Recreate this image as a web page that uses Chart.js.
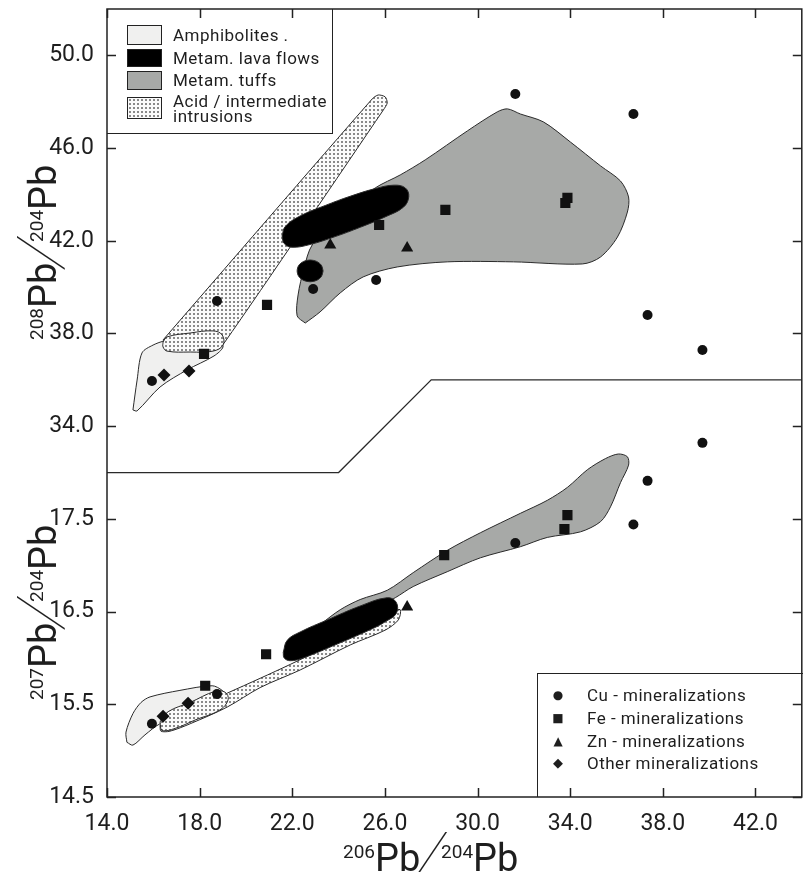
<!DOCTYPE html>
<html lang="en">
<head>
<meta charset="UTF-8">
<title>Pb isotope diagram</title>
<style>
  body { margin: 0; background: #fff; }
  #wrap { position: relative; width: 809px; height: 872px; font-family: Roboto, sans-serif; color: #1e1e1e; }
  #wrap canvas { position: absolute; left: 0; top: 0; }
  .box { position: absolute; box-sizing: border-box; }
  .lab { position: absolute; font-size: 17px; line-height: 20px; letter-spacing: 0.5px; white-space: nowrap; }
  .sw { position: absolute; box-sizing: border-box; left: 127px; width: 35px; border: 1px solid #222; }
  .mk { position: absolute; width: 16px; left: 550px; text-align: center; font-family: 'DejaVu Sans'; font-size: 12px; line-height: 20px; }
  .ttl { position: absolute; white-space: nowrap; font-size: 38px; line-height: 38px; }
  .ttl .iso { font-size: 19px; vertical-align: 13px; }
  .ttl .sl { display: inline-block; font-size: 62px; font-weight: 100; transform: skewX(-16deg); margin: 0 -2px 0 -1px; vertical-align: -5px; }
  .rot { transform: rotate(-90deg); transform-origin: left top; }
</style>
</head>
<body>
<div id="wrap">
  <canvas id="chart" width="809" height="872"></canvas>

  <!-- rock type legend, top left -->
  <div class="box" style="left:107px;top:9px;width:226px;height:125px;border-right:1.5px solid #222;border-bottom:1.5px solid #222;"></div>
  <div class="sw" style="top:25px;height:20px;background:#f0f0ef;"></div>
  <div class="lab" style="left:173px;top:25px;">Amphibolites .</div>
  <div class="sw" style="top:49px;height:18px;background:#000;"></div>
  <div class="lab" style="left:173px;top:48px;">Metam. lava flows</div>
  <div class="sw" style="top:71px;height:19px;background:#a7a9a7;"></div>
  <div class="lab" style="left:173px;top:70px;">Metam. tuffs</div>
  <div class="sw" style="top:97px;height:22px;background:radial-gradient(circle, #8a8a8a 1px, transparent 1.3px) 0 0/4px 4px, #fbfbfb;"></div>
  <div class="lab" style="left:173px;top:94px;line-height:15px;">Acid / intermediate<br>intrusions</div>

  <!-- mineralization legend, bottom right -->
  <div class="box" style="left:537px;top:673px;width:266px;height:124px;border-left:1.5px solid #222;border-top:1.5px solid #222;"></div>
  <div class="mk" style="top:685px;">●</div>
  <div class="lab" style="left:587px;top:685px;">Cu - mineralizations</div>
  <div class="mk" style="top:708px;">■</div>
  <div class="lab" style="left:587px;top:708px;">Fe - mineralizations</div>
  <div class="mk" style="top:731px;">▲</div>
  <div class="lab" style="left:587px;top:731px;">Zn - mineralizations</div>
  <div class="mk" style="top:753px;font-size:13px;">◆</div>
  <div class="lab" style="left:587px;top:753px;">Other mineralizations</div>

  <!-- axis titles -->
  <div class="ttl rot" style="left:18px;top:340px;"><span class="iso">208</span>Pb<span class="sl">/</span><span class="iso">204</span>Pb</div>
  <div class="ttl rot" style="left:18px;top:700px;"><span class="iso">207</span>Pb<span class="sl">/</span><span class="iso">204</span>Pb</div>
  <div class="ttl" style="left:343px;top:833px;"><span class="iso">206</span>Pb<span class="sl">/</span><span class="iso">204</span>Pb</div>
</div>

<script src="https://cdn.jsdelivr.net/npm/chart.js"></script>
<script>
// tick labels
const xTicks = [14.0, 18.0, 22.0, 26.0, 30.0, 34.0, 38.0, 42.0];
const ticks208 = [34.0, 38.0, 42.0, 46.0, 50.0];
const ticks207 = [14.5, 15.5, 16.5, 17.5];

// mineralizations: [206Pb/204Pb, 208Pb/204Pb] and [206Pb/204Pb, 207Pb/204Pb]
const cu208 = [[15.94,35.95],[18.75,39.40],[22.90,39.92],[25.62,40.31],[31.63,48.33],[36.73,47.47],[37.34,38.80],[39.71,37.29]];
const cu207 = [[15.94,15.29],[18.75,15.61],[31.63,17.24],[36.73,17.44],[37.34,17.91],[39.71,18.32]];
const fe208 = [[18.19,37.12],[20.91,39.23],[25.75,42.68],[28.61,43.33],[33.79,43.63],[33.88,43.85]];
const fe207 = [[18.24,15.70],[20.87,16.04],[28.56,17.11],[33.88,17.54],[33.75,17.39]];
const zn208 = [[23.64,41.82],[26.96,41.69]];
const zn207 = [[26.96,16.55]];
const other208 = [[16.46,36.21],[17.54,36.38]];
const other207 = [[16.42,15.37],[17.50,15.51]];

// rock fields (outlines), upper diagram
const amph208 = [[15.12,34.70],[15.30,35.99],[15.51,37.16],[15.99,37.50],[16.51,37.68],[18.02,37.81],[18.80,37.72],[19.01,37.42],[18.62,37.03],[17.46,36.43],[16.29,35.69],[15.30,34.66]];
const intr208 = [[16.42,37.72],[25.45,48.12],[25.71,48.29],[26.01,48.21],[26.10,47.95],[25.93,47.64],[19.06,37.59],[18.67,37.29],[16.72,37.29]];
const oval208 = [[16.42,37.63],[16.59,37.85],[17.59,38.02],[18.58,38.11],[18.97,37.94],[19.01,37.50],[18.58,37.24],[17.59,37.20],[16.59,37.24],[16.42,37.42]];
const tuff208 = [[22.56,38.45],[22.21,38.76],[22.25,39.66],[22.51,40.83],[22.86,41.82],[24.07,43.11],[25.58,44.28],[26.66,44.84],[27.74,45.49],[29.56,46.74],[30.85,47.56],[31.29,47.69],[31.85,47.47],[32.84,47.13],[34.01,46.26],[35.31,45.23],[36.17,44.58],[36.52,43.89],[36.47,43.24],[36.04,42.16],[35.31,41.30],[34.53,41.00],[31.55,41.09],[28.69,41.09],[26.53,40.87],[25.06,40.44],[24.07,39.75],[23.20,38.93]];
const lava208 = [[21.56,42.21],[21.70,42.62],[22.34,43.07],[23.42,43.52],[24.50,43.92],[25.58,44.25],[26.40,44.40],[26.88,44.28],[27.03,43.90],[26.80,43.45],[26.01,43.03],[24.93,42.58],[23.85,42.18],[22.77,41.84],[21.99,41.72],[21.65,41.88]];
const lavaSmall208 = [[23.33,40.70],[23.26,40.94],[23.05,41.11],[22.77,41.17],[22.49,41.11],[22.28,40.94],[22.21,40.70],[22.28,40.46],[22.49,40.29],[22.77,40.23],[23.05,40.29],[23.26,40.46]];

// rock fields, lower diagram
const amph207 = [[14.86,15.09],[14.82,15.20],[15.12,15.40],[15.47,15.52],[15.86,15.58],[17.15,15.65],[18.54,15.70],[18.97,15.65],[19.14,15.58],[18.88,15.49],[17.59,15.41],[16.29,15.29],[15.64,15.17],[15.12,15.06]];
const intr207 = [[16.29,15.27],[16.64,15.36],[17.80,15.46],[19.19,15.62],[20.61,15.78],[21.91,15.93],[23.64,16.14],[25.37,16.36],[26.32,16.50],[26.66,16.52],[26.58,16.41],[26.01,16.30],[24.50,16.14],[22.34,15.87],[20.61,15.68],[19.19,15.47],[17.59,15.29],[16.72,15.21],[16.33,15.21]];
const oval207 = [[16.29,15.31],[16.64,15.42],[17.59,15.52],[18.67,15.64],[19.10,15.63],[19.23,15.55],[18.88,15.44],[17.80,15.33],[16.94,15.24],[16.38,15.22]];
const tuff207 = [[23.20,16.36],[24.07,16.52],[24.93,16.63],[26.10,16.73],[27.22,16.92],[28.69,17.16],[30.12,17.35],[31.85,17.56],[33.01,17.70],[33.88,17.84],[34.74,18.03],[35.52,18.15],[36.08,18.20],[36.47,18.17],[36.52,18.08],[36.17,17.89],[35.74,17.63],[35.31,17.47],[34.44,17.36],[33.01,17.30],[31.85,17.20],[30.12,17.08],[28.69,16.93],[27.22,16.77],[26.45,16.65],[25.58,16.54],[24.29,16.41],[23.42,16.30]];
const lava207 = [[21.61,16.06],[21.78,16.19],[22.34,16.28],[23.51,16.41],[24.93,16.56],[26.10,16.65],[26.49,16.60],[26.49,16.48],[26.01,16.39],[25.50,16.32],[23.94,16.15],[22.47,16.00],[21.91,15.97],[21.65,16.00]];

// boundary between the two diagrams, in 208Pb/204Pb units
const divider208 = [[14,32],[24,32],[28,36],[44,36]];

// one vertical axis for both: 1 unit of 207Pb/204Pb = 4 units of 208Pb/204Pb
const u207 = v => v - 14.5;
const u208 = v => 4 + (v - 34) / 4;

function pts(arr, f, close) {
  const p = arr.map(([x, y]) => ({ x: x, y: f(y) }));
  if (close) p.push({ x: p[0].x, y: p[0].y });
  return p;
}

function makePattern(w, h, draw) {
  const c = document.createElement('canvas');
  c.width = w; c.height = h;
  const g = c.getContext('2d');
  draw(g);
  return g.createPattern(c, 'repeat');
}
const dotFill = makePattern(4, 4, g => {
  g.fillStyle = '#fbfbfb'; g.fillRect(0, 0, 4, 4);
  g.fillStyle = '#8a8a8a'; g.fillRect(1, 1, 2, 2);
});
const tuffFill = '#a7a9a7';
const amphFill = '#f0f0ef';

function area(data, bg, order, tension) {
  return {
    data: data, showLine: true, fill: 'shape', backgroundColor: bg,
    borderColor: '#2a2a2a', borderWidth: 1, tension: tension, pointRadius: 0, order: order
  };
}
function marks(data, style, r) {
  return {
    data: data, showLine: false, pointStyle: style, pointRadius: r,
    pointBackgroundColor: '#111', pointBorderColor: '#111', pointBorderWidth: 0, order: 0
  };
}

const datasets = [
  marks(pts(cu208, u208).concat(pts(cu207, u207)), 'circle', 5),
  marks(pts(fe208, u208).concat(pts(fe207, u207)), 'rect', 7.2),
  marks(pts(zn208, u208).concat(pts(zn207, u207)), 'triangle', 7),
  marks(pts(other208, u208).concat(pts(other207, u207)), 'rectRot', 6.5),
  { data: pts(divider208, u208), showLine: true, fill: false, borderColor: '#2a2a2a', borderWidth: 1.3, pointRadius: 0, order: 1 },
  area(pts(lava208, u208, true), '#000', 2, 0.4),
  area(pts(lavaSmall208, u208, true), '#000', 2, 0.3),
  area(pts(lava207, u207, true), '#000', 2, 0.4),
  area(pts(tuff208, u208, true), tuffFill, 3, 0.3),
  area(pts(tuff207, u207, true), tuffFill, 3, 0.3),
  area(pts(oval208, u208, true), dotFill, 4, 0.4),
  area(pts(oval207, u207, true), dotFill, 4, 0.4),
  area(pts(intr208, u208, true), dotFill, 5, 0.25),
  area(pts(intr207, u207, true), dotFill, 5, 0.3),
  area(pts(amph208, u208, true), amphFill, 6, 0.3),
  area(pts(amph207, u207, true), amphFill, 6, 0.3)
];

// frame with inward ticks on all four sides
const frame = {
  id: 'frame',
  afterDatasetsDraw(chart) {
    const { ctx, chartArea: a, scales: { x, y } } = chart;
    ctx.save();
    ctx.strokeStyle = '#222';
    ctx.lineWidth = 1.5;
    ctx.strokeRect(a.left, a.top, a.right - a.left, a.bottom - a.top);
    ctx.beginPath();
    x.ticks.forEach(t => {
      const px = Math.round(x.getPixelForValue(t.value)) + 0.5;
      ctx.moveTo(px, a.bottom); ctx.lineTo(px, a.bottom - 9);
      ctx.moveTo(px, a.top); ctx.lineTo(px, a.top + 9);
    });
    y.ticks.forEach(t => {
      const py = Math.round(y.getPixelForValue(t.value)) + 0.5;
      ctx.moveTo(a.left, py); ctx.lineTo(a.left + 9, py);
      ctx.moveTo(a.right, py); ctx.lineTo(a.right - 9, py);
    });
    ctx.stroke();
    ctx.restore();
  }
};

const tickFont = { family: 'Roboto', size: 23 };

new Chart(document.getElementById('chart'), {
  type: 'scatter',
  data: { datasets: datasets },
  options: {
    responsive: false,
    devicePixelRatio: 1,
    animation: false,
    layout: { padding: { left: 0, top: 9, right: 6, bottom: 0 } },
    plugins: { legend: { display: false }, tooltip: { enabled: false } },
    scales: {
      x: {
        type: 'linear', min: 14, max: 44,
        grid: { display: false }, border: { display: false },
        afterBuildTicks: s => { s.ticks = xTicks.map(v => ({ value: v })); },
        afterFit: s => { s.height = 75; s.paddingLeft = 0; s.paddingRight = 0; },
        ticks: { autoSkip: false, maxRotation: 0, padding: 5, color: '#1e1e1e', font: tickFont,
                 callback: v => v.toFixed(1) }
      },
      y: {
        type: 'linear', min: 0, max: 8.5,
        grid: { display: false }, border: { display: false },
        afterBuildTicks: s => {
          s.ticks = ticks207.map(v => ({ value: u207(v), txt: v.toFixed(1) }))
            .concat(ticks208.map(v => ({ value: u208(v), txt: v.toFixed(1) })));
        },
        afterFit: s => { s.width = 107; s.paddingTop = 0; s.paddingBottom = 0; },
        ticks: { autoSkip: false, padding: 5, color: '#1e1e1e', font: tickFont,
                 callback: (v, i, ticks) => ticks[i].txt }
      }
    }
  },
  plugins: [frame]
});
</script>
</body>
</html>
